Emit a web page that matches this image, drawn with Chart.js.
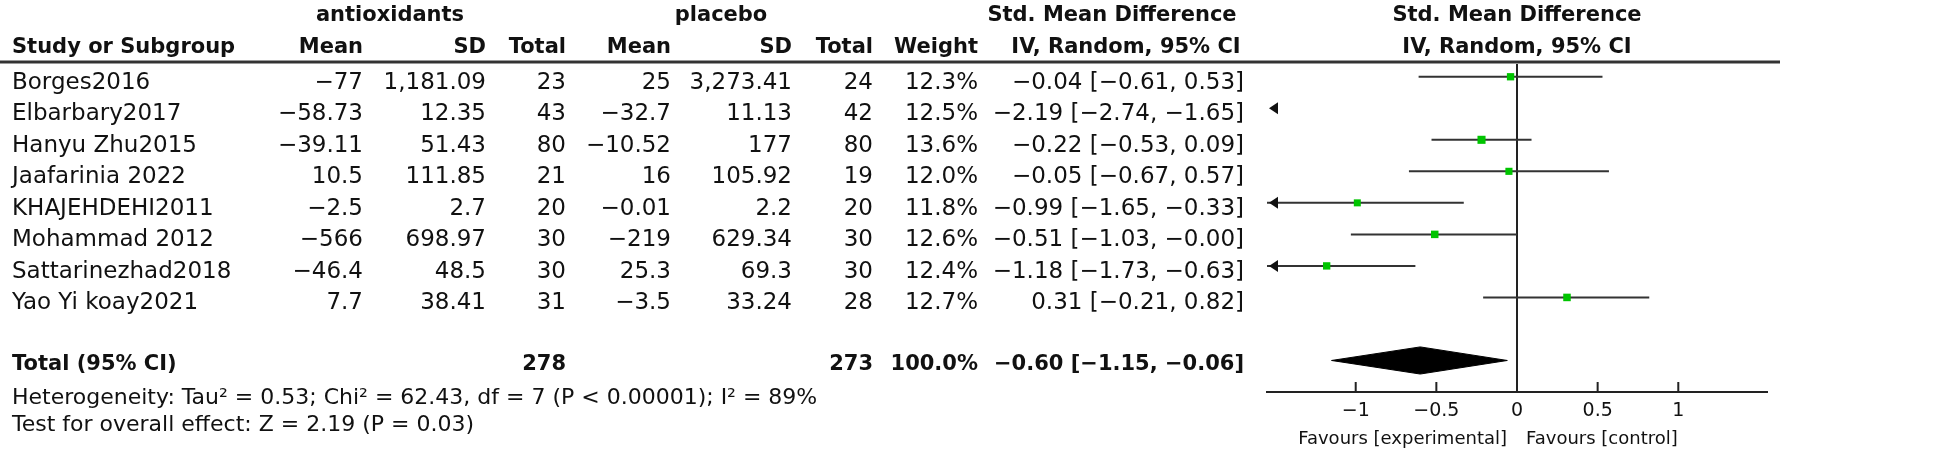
<!DOCTYPE html>
<html>
<head>
<meta charset="utf-8">
<script src="https://cdn.jsdelivr.net/npm/chart.js@4"></script>
<style>
  body { margin: 0; background: #fff; }
  canvas { display: block; }
</style>
</head>
<body>
<canvas id="forest" width="1948" height="456"></canvas>
<script>
const studies = ["Borges2016", "Elbarbary2017", "Hanyu Zhu2015", "Jaafarinia 2022", "KHAJEHDEHI2011", "Mohammad 2012", "Sattarinezhad2018", "Yao Yi koay2021"];
const expMean = [-77, -58.73, -39.11, 10.5, -2.5, -566, -46.4, 7.7];
const expSD = [1181.09, 12.35, 51.43, 111.85, 2.7, 698.97, 48.5, 38.41];
const expN = [23, 43, 80, 21, 20, 30, 30, 31];
const ctlMean = [25, -32.7, -10.52, 16, -0.01, -219, 25.3, -3.5];
const ctlSD = [3273.41, 11.13, 177, 105.92, 2.2, 629.34, 69.3, 33.24];
const ctlN = [24, 42, 80, 19, 20, 30, 30, 28];
const weights = [12.3, 12.5, 13.6, 12.0, 11.8, 12.6, 12.4, 12.7];
const smd = [-0.04, -2.19, -0.22, -0.05, -0.99, -0.51, -1.18, 0.31];
const ciLow = [-0.61, -2.74, -0.53, -0.67, -1.65, -1.03, -1.73, -0.21];
const ciHigh = [0.53, -1.65, 0.09, 0.57, -0.33, -0.00, -0.63, 0.82];
const totalSmd = -0.60;
const totalLow = -1.15;
const totalHigh = -0.06;
const totalWeight = 100.0;
const xTicks = [-1, -0.5, 0, 0.5, 1];
const heterogeneity = "Heterogeneity: Tau² = 0.53; Chi² = 62.43, df = 7 (P < 0.00001); I² = 89%";
const overallTest = "Test for overall effect: Z = 2.19 (P = 0.03)";

const TOTAL_ROW = 9;
const FONT = '"DejaVu Sans", Verdana, sans-serif';
const INK = "#111";

// right edges of the table columns
const COL = { name: 12, mean1: 363, sd1: 486, n1: 566, mean2: 671, sd2: 792, n2: 873, weight: 978, ci: 1244 };

const minus = s => s.replace(/-/g, "−");
const fmtNum = v => minus(v.toLocaleString("en-US", { maximumFractionDigits: 2 }));
const fmt2 = v => ((v < 0 || Object.is(v, -0)) ? "−" : "") + Math.abs(v).toFixed(2);
const ciText = (m, lo, hi) => `${fmt2(m)} [${fmt2(lo)}, ${fmt2(hi)}]`;
const sum = a => a.reduce((s, v) => s + v, 0);

// table text, header rule, tick marks, arrows and labels
const tablePlugin = {
  id: "forestTable",
  afterDraw(chart) {
    const ctx = chart.ctx;
    const xs = chart.scales.x;
    const ys = chart.scales.y;
    const area = chart.chartArea;
    const zero = xs.getPixelForValue(0);

    const text = (str, x, y, align, bold, size) => {
      ctx.font = `${bold ? "bold " : ""}${size || 23}px ${FONT}`;
      ctx.textAlign = align;
      ctx.textBaseline = "alphabetic";
      ctx.fillStyle = INK;
      ctx.fillText(str, x, y);
    };

    ctx.save();
    // header rule
    ctx.fillStyle = "#999";
    ctx.fillRect(0, 60, 1780, 4);
    ctx.fillStyle = "#333";
    ctx.fillRect(0, 61, 1780, 2);

    // headers
    const hb = 21;
    text("antioxidants", 390, 21, "center", true, hb);
    text("placebo", 721, 21, "center", true, hb);
    text("Std. Mean Difference", 1112, 21, "center", true, hb);
    text("IV, Random, 95% CI", 1126, 53, "center", true, hb);
    text("Std. Mean Difference", zero, 21, "center", true, hb);
    text("IV, Random, 95% CI", zero, 53, "center", true, hb);
    text("Study or Subgroup", COL.name, 53, "left", true, hb);
    text("Mean", COL.mean1, 53, "right", true, hb);
    text("SD", COL.sd1, 53, "right", true, hb);
    text("Total", COL.n1, 53, "right", true, hb);
    text("Mean", COL.mean2, 53, "right", true, hb);
    text("SD", COL.sd2, 53, "right", true, hb);
    text("Total", COL.n2, 53, "right", true, hb);
    text("Weight", COL.weight, 53, "right", true, hb);

    // study rows
    studies.forEach((name, i) => {
      const y = ys.getPixelForValue(i) + 12;
      text(name, COL.name, y, "left");
      text(fmtNum(expMean[i]), COL.mean1, y, "right");
      text(fmtNum(expSD[i]), COL.sd1, y, "right");
      text(String(expN[i]), COL.n1, y, "right");
      text(fmtNum(ctlMean[i]), COL.mean2, y, "right");
      text(fmtNum(ctlSD[i]), COL.sd2, y, "right");
      text(String(ctlN[i]), COL.n2, y, "right");
      text(weights[i].toFixed(1) + "%", COL.weight, y, "right");
      text(ciText(smd[i], ciLow[i], ciHigh[i]), COL.ci, y, "right");
    });

    // total row
    const ty = ys.getPixelForValue(TOTAL_ROW) + 10;
    text("Total (95% CI)", COL.name, ty, "left", true, hb);
    text(String(sum(expN)), COL.n1, ty, "right", true, hb);
    text(String(sum(ctlN)), COL.n2, ty, "right", true, hb);
    text(totalWeight.toFixed(1) + "%", COL.weight, ty, "right", true, hb);
    text(ciText(totalSmd, totalLow, totalHigh), COL.ci, ty, "right", true, hb);
    text(heterogeneity, COL.name, 404, "left", false, 22);
    text(overallTest, COL.name, 431, "left", false, 22);

    // upward tick marks on the axis
    ctx.strokeStyle = "#222";
    ctx.lineWidth = 2;
    ctx.beginPath();
    xTicks.forEach(v => {
      const x = xs.getPixelForValue(v);
      ctx.moveTo(x, area.bottom);
      ctx.lineTo(x, area.bottom - 10);
    });
    ctx.stroke();

    // arrows for intervals running off the scale
    ctx.fillStyle = "#111";
    studies.forEach((name, i) => {
      const y = ys.getPixelForValue(i);
      if (ciLow[i] < xs.min) {
        const x = area.left + 2;
        ctx.beginPath();
        ctx.moveTo(x, y);
        ctx.lineTo(x + 9, y - 6);
        ctx.lineTo(x + 9, y + 6);
        ctx.closePath();
        ctx.fill();
      }
      if (ciHigh[i] > xs.max) {
        const x = area.right - 2;
        ctx.beginPath();
        ctx.moveTo(x, y);
        ctx.lineTo(x - 9, y - 6);
        ctx.lineTo(x - 9, y + 6);
        ctx.closePath();
        ctx.fill();
      }
    });

    // favours labels
    text("Favours [experimental]", zero - 10, 444, "right", false, 18);
    text("Favours [control]", zero + 9, 444, "left", false, 18);
    ctx.restore();
  }
};

const squares = {
  data: studies.map((s, i) => ({ x: smd[i], y: i })),
  pointStyle: "rect",
  pointRadius: c => weights[c.dataIndex] * 0.42,
  backgroundColor: "#00c400",
  borderWidth: 0,
  showLine: false,
  order: 0
};

const ciLines = studies.map((s, i) => ({
  data: [{ x: ciLow[i], y: i }, { x: ciHigh[i], y: i }],
  showLine: true,
  borderColor: "#333",
  borderWidth: 2,
  pointRadius: 0,
  order: 1
}));

const dh = 0.43;
const diamond = {
  data: [
    { x: totalLow, y: TOTAL_ROW },
    { x: totalSmd, y: TOTAL_ROW - dh },
    { x: totalHigh, y: TOTAL_ROW },
    { x: totalSmd, y: TOTAL_ROW + dh },
    { x: totalLow, y: TOTAL_ROW }
  ],
  showLine: true,
  fill: "shape",
  borderColor: "#000",
  backgroundColor: "#000",
  borderWidth: 1,
  pointRadius: 0,
  order: 2
};

new Chart(document.getElementById("forest"), {
  type: "scatter",
  data: { datasets: [squares, ...ciLines, diamond] },
  options: {
    responsive: false,
    animation: false,
    layout: { padding: { left: 1267, right: 181, top: 61, bottom: 24 } },
    plugins: { legend: { display: false }, tooltip: { enabled: false } },
    scales: {
      x: {
        type: "linear",
        min: -1.55,
        max: 1.55,
        afterBuildTicks: axis => { axis.ticks = xTicks.map(v => ({ value: v })); },
        afterFit: axis => { axis.height = 40; },
        grid: {
          drawTicks: false,
          lineWidth: 2,
          color: c => (c.tick && c.tick.value === 0 ? "#222" : "rgba(0,0,0,0)")
        },
        border: { display: true, color: "#222", width: 2 },
        ticks: {
          padding: 8,
          color: INK,
          font: { family: FONT, size: 19 },
          callback: v => minus(String(v))
        }
      },
      y: {
        type: "linear",
        display: false,
        reverse: true,
        min: -0.5,
        max: 10
      }
    }
  },
  plugins: [tablePlugin]
});
</script>
</body>
</html>
